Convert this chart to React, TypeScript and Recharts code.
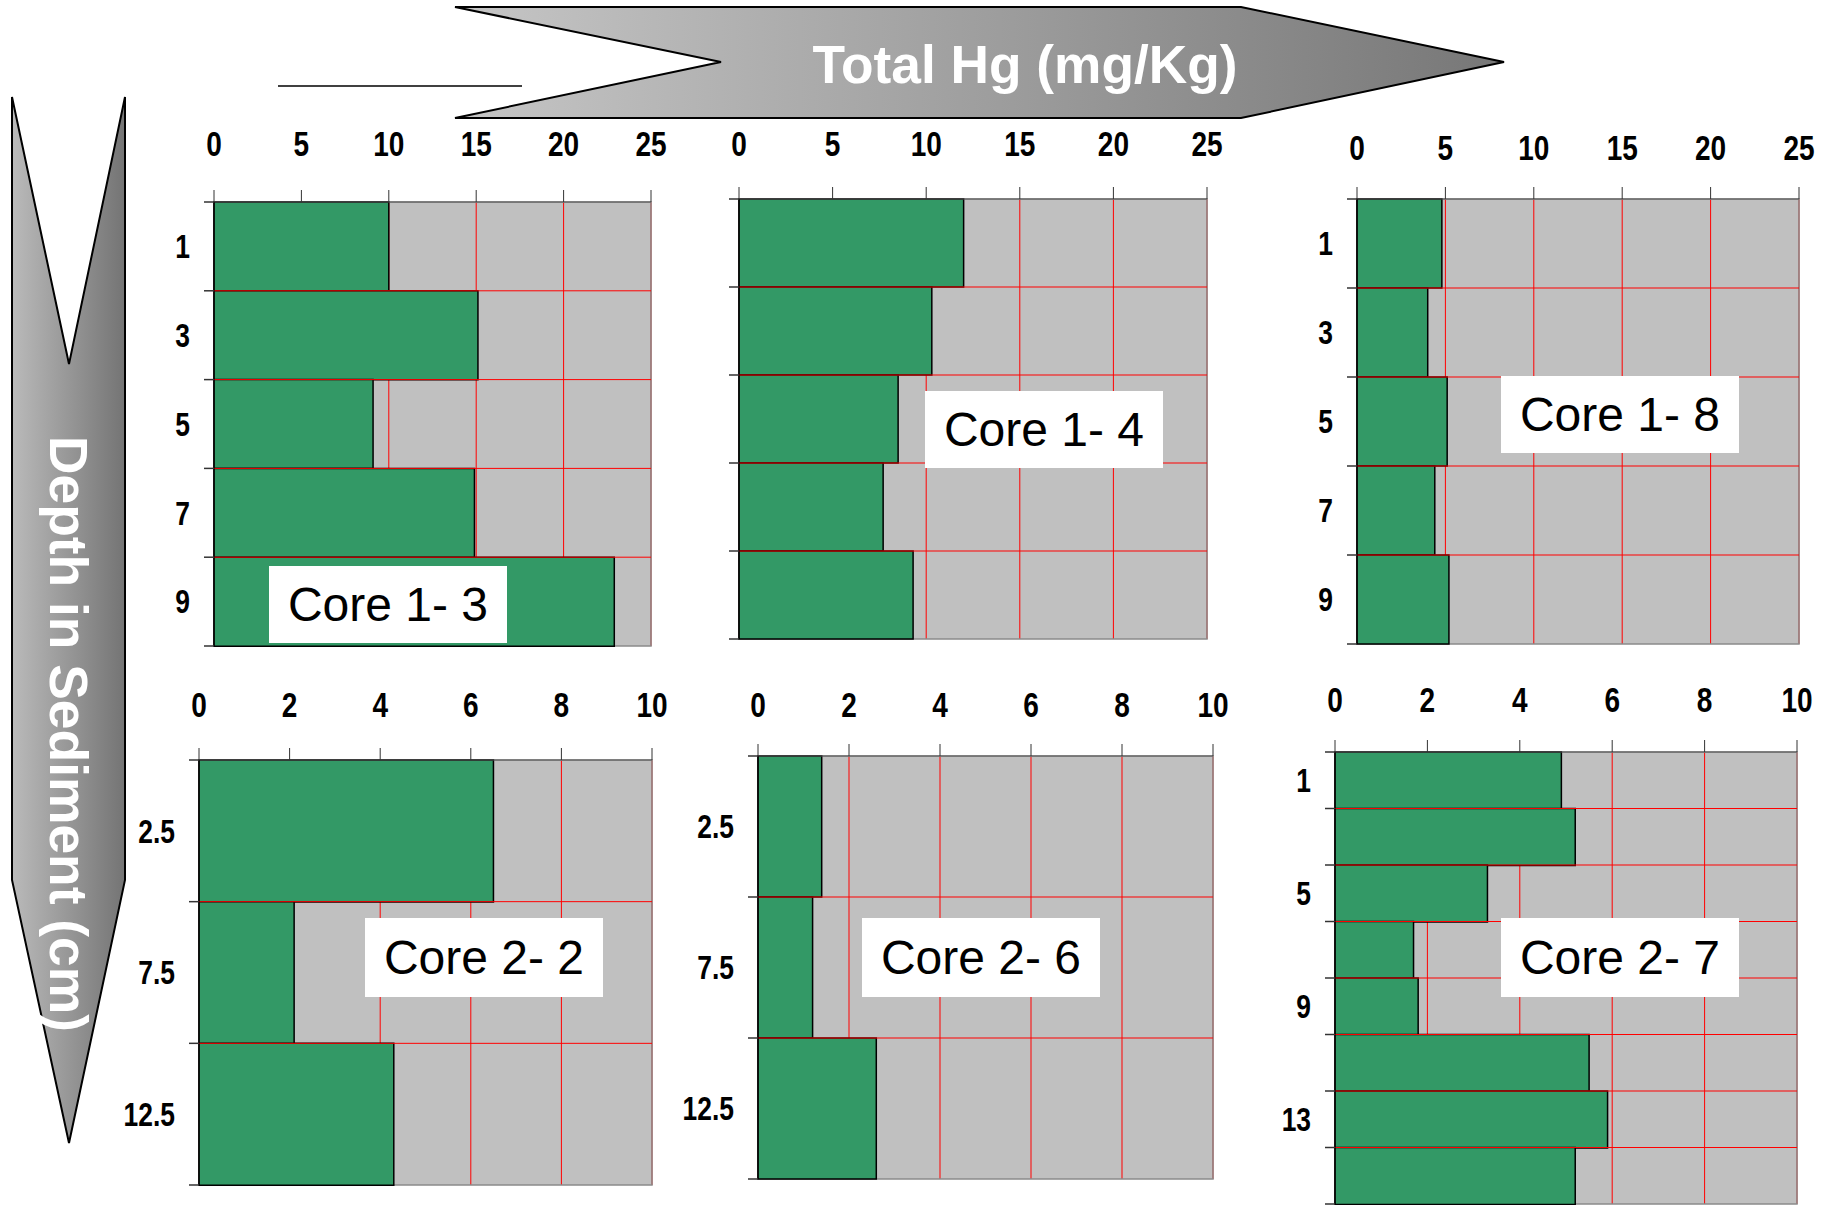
import React from "react";
import { BarChart, Bar, XAxis, YAxis, CartesianGrid, ReferenceArea, ReferenceLine } from "recharts";

// depth intervals (cm) for each core
const depthsCore1 = ["1", "3", "5", "7", "9"];
const depthsCore2 = ["2.5", "7.5", "12.5"];
const depthsCore27 = ["1", "3", "5", "7", "9", "11", "13", "15"];

// total Hg (mg/Kg)
const hgCore13 = [10.0, 15.1, 9.1, 14.9, 22.9];
const hgCore14 = [12.0, 10.3, 8.5, 7.7, 9.3];
const hgCore18 = [4.8, 4.0, 5.1, 4.4, 5.2];
const hgCore22 = [6.5, 2.1, 4.3];
const hgCore26 = [1.4, 1.2, 2.6];
const hgCore27 = [4.9, 5.2, 3.3, 1.7, 1.8, 5.5, 5.9, 5.2];

const ticksCore1 = [0, 5, 10, 15, 20, 25];
const ticksCore2 = [0, 2, 4, 6, 8, 10];

const SANS = "'Liberation Sans', Arial, sans-serif";
const PAD = 100;
const RIGHT = 40;
const LABEL_GAP = 24;

// bold condensed tick text (Arial Narrow look)
const NarrowTick = (p: any) => {
  const { x, y, payload, textAnchor, size } = p;
  return (
    <text
      transform={`translate(${x},${y}) scale(0.8,1)`}
      textAnchor={textAnchor}
      fontSize={size}
      fontWeight={700}
      fontFamily={SANS}
      fill="#000"
    >
      {payload.value}
    </text>
  );
};

// depth tick: label at the band centre, tick marks at the band edges
const DepthTick = (p: any) => {
  const { x, y, payload, index, visibleTicksCount, height, showLabel, labelEvery } = p;
  const half = payload.offset ?? height / (2 * visibleTicksCount);
  const left = x + LABEL_GAP;
  const last = index === visibleTicksCount - 1;
  const labelled = showLabel && index % labelEvery === 0;
  return (
    <g>
      <line x1={left - 10} x2={left} y1={y - half} y2={y - half} stroke="#333" strokeWidth={1.5} />
      {last && <line x1={left - 10} x2={left} y1={y + half} y2={y + half} stroke="#333" strokeWidth={1.5} />}
      {labelled && (
        <text
          transform={`translate(${x},${y}) scale(0.8,1)`}
          dy="0.36em"
          textAnchor="end"
          fontSize={33}
          fontWeight={700}
          fontFamily={SANS}
          fill="#000"
        >
          {payload.value}
        </text>
      )}
    </g>
  );
};

type Rect = { x: number; y: number; w: number; h: number };

interface PanelProps {
  name: string;
  depths: string[];
  values: number[];
  xTicks: number[];
  plot: Rect;
  box: Rect;
  tickGap: number;
  showDepth: boolean;
  every?: number;
}

const CorePanel = (props: PanelProps) => {
  const { depths, values, xTicks, plot, tickGap, showDepth } = props;
  const data = depths.map((d, i) => ({ depth: d, hg: values[i] }));
  const xMax = xTicks[xTicks.length - 1];
  return (
    <div style={{ position: "absolute", left: plot.x - PAD, top: plot.y - PAD }}>
      <BarChart
        width={plot.w + PAD + RIGHT}
        height={plot.h + PAD + 10}
        data={data}
        layout="vertical"
        barCategoryGap={0}
        margin={{ top: 0, left: 0, right: RIGHT, bottom: 10 }}
      >
        <CartesianGrid horizontal={false} fill="#c0c0c0" stroke="#ff0000" strokeWidth={1} />
        <XAxis
          type="number"
          orientation="top"
          domain={[0, xMax]}
          ticks={xTicks}
          height={PAD}
          tickSize={12}
          tickMargin={tickGap}
          axisLine={{ stroke: "#555" }}
          tickLine={{ stroke: "#333" }}
          tick={<NarrowTick size={35} />}
        />
        <YAxis
          type="category"
          dataKey="depth"
          width={PAD}
          tickLine={false}
          axisLine={{ stroke: "#000" }}
          tickSize={0}
          tickMargin={LABEL_GAP}
          interval={0}
          tick={<DepthTick showLabel={showDepth} labelEvery={props.every ?? 1} />}
        />
        {depths.slice(1).map((d) => (
          <ReferenceLine key={d} y={d} position="start" stroke="#ff0000" strokeWidth={1} />
        ))}
        <ReferenceArea x1={0} x2={xMax} fill="none" stroke="#8a8a8a" strokeWidth={1.5} ifOverflow="visible" />
        <Bar dataKey="hg" fill="#339966" stroke="#000" strokeWidth={1.5} isAnimationActive={false} />
      </BarChart>
    </div>
  );
};

const panels: PanelProps[] = [
  { name: "Core 1- 3", depths: depthsCore1, values: hgCore13, xTicks: ticksCore1, plot: { x: 214, y: 202, w: 437, h: 444 }, box: { x: 269, y: 566, w: 238, h: 77 }, tickGap: 34, showDepth: true },
  { name: "Core 1- 4", depths: depthsCore1, values: hgCore14, xTicks: ticksCore1, plot: { x: 739, y: 199, w: 468, h: 440 }, box: { x: 925, y: 391, w: 238, h: 77 }, tickGap: 31, showDepth: false },
  { name: "Core 1- 8", depths: depthsCore1, values: hgCore18, xTicks: ticksCore1, plot: { x: 1357, y: 199, w: 442, h: 445 }, box: { x: 1501, y: 376, w: 238, h: 77 }, tickGap: 27, showDepth: true },
  { name: "Core 2- 2", depths: depthsCore2, values: hgCore22, xTicks: ticksCore2, plot: { x: 199, y: 760, w: 453, h: 425 }, box: { x: 365, y: 918, w: 238, h: 79 }, tickGap: 31, showDepth: true },
  { name: "Core 2- 6", depths: depthsCore2, values: hgCore26, xTicks: ticksCore2, plot: { x: 758, y: 756, w: 455, h: 423 }, box: { x: 862, y: 918, w: 238, h: 79 }, tickGap: 27, showDepth: true },
  { name: "Core 2- 7", depths: depthsCore27, values: hgCore27, xTicks: ticksCore2, plot: { x: 1335, y: 752, w: 462, h: 452 }, box: { x: 1501, y: 918, w: 238, h: 79 }, tickGap: 28, showDepth: true, every: 2 },
];

export default function App() {
  return (
    <div style={{ position: "absolute", left: 0, top: 0, width: 1839, height: 1205, overflow: "hidden", background: "#fff" }}>
      <svg width={1839} height={1205} style={{ position: "absolute", left: 0, top: 0 }}>
        <defs>
          <linearGradient id="gTop" x1="0" x2="1" y1="0" y2="0">
            <stop offset="0" stopColor="#c6c6c6" />
            <stop offset="1" stopColor="#777" />
          </linearGradient>
          <linearGradient id="gLeft" x1="0" x2="1" y1="0" y2="0">
            <stop offset="0" stopColor="#bababa" />
            <stop offset="1" stopColor="#747474" />
          </linearGradient>
        </defs>
        <polygon points="455,7 1241,7 1504,62 1241,118 455,118 721,62" fill="url(#gTop)" stroke="#000" strokeWidth={2} />
        <text x={1025} y={64} textAnchor="middle" dominantBaseline="central" fill="#fff" fontSize={54} fontWeight={700} fontFamily={SANS} textLength={425} lengthAdjust="spacingAndGlyphs">
          Total Hg (mg/Kg)
        </text>
        <line x1={278} y1={86} x2={522} y2={86} stroke="#000" strokeWidth={1.5} />
        <polygon points="12,97 69,364 125,97 125,880 69,1143 12,880" fill="url(#gLeft)" stroke="#000" strokeWidth={2} />
        <text transform="translate(69,734) rotate(90)" textAnchor="middle" dominantBaseline="central" fill="#fff" fontSize={54} fontWeight={700} fontFamily={SANS} textLength={596} lengthAdjust="spacingAndGlyphs">
          Depth in Sediment (cm)
        </text>
      </svg>
      {panels.map((p) => (
        <CorePanel key={p.name} {...p} />
      ))}
      {panels.map((p) => (
        <div
          key={"box-" + p.name}
          style={{
            position: "absolute",
            left: p.box.x,
            top: p.box.y,
            width: p.box.w,
            height: p.box.h,
            background: "#fff",
            display: "flex",
            alignItems: "center",
            justifyContent: "center",
            fontFamily: SANS,
            fontSize: 48,
            color: "#000",
          }}
        >
          {p.name}
        </div>
      ))}
    </div>
  );
}
